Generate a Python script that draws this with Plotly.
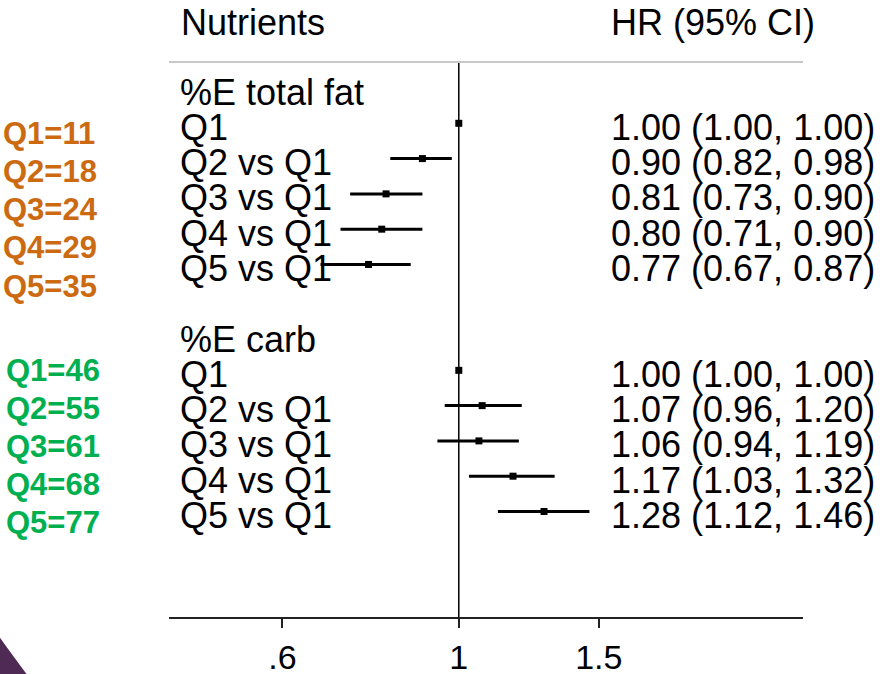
import math
import plotly.graph_objects as go

# ---- data ----
group_titles = ["%E total fat", "%E carb"]
row_labels = ["Q1", "Q2 vs Q1", "Q3 vs Q1", "Q4 vs Q1", "Q5 vs Q1"]
fat_hr = [1.00, 0.90, 0.81, 0.80, 0.77]
fat_lo = [1.00, 0.82, 0.73, 0.71, 0.67]
fat_hi = [1.00, 0.98, 0.90, 0.90, 0.87]
carb_hr = [1.00, 1.07, 1.06, 1.17, 1.28]
carb_lo = [1.00, 0.96, 0.94, 1.03, 1.12]
carb_hi = [1.00, 1.20, 1.19, 1.32, 1.46]
fat_quint = ["Q1=11", "Q2=18", "Q3=24", "Q4=29", "Q5=35"]
carb_quint = ["Q1=46", "Q2=55", "Q3=61", "Q4=68", "Q5=77"]
tick_vals = [0.6, 1, 1.5]
tick_text = [".6", "1", "1.5"]

W, H = 885, 674
L, R, T, B = 169, 803, 62, 617

def px_x(px):
    return (px - L) / (R - L)

def px_y(py):
    return (B - py) / (B - T)

FONT = "Liberation Sans, Arial, sans-serif"
ORANGE = "#CC6A12"
GREEN = "#00B050"

fat_rows = [1, 2, 3, 4, 5]
carb_rows = [8, 9, 10, 11, 12]

fig = go.Figure()
for hr, lo, hi, rows in [(fat_hr, fat_lo, fat_hi, fat_rows), (carb_hr, carb_lo, carb_hi, carb_rows)]:
    fig.add_trace(go.Scatter(
        x=hr, y=rows, mode="markers",
        marker=dict(symbol="square", size=7, color="black"),
        error_x=dict(type="data", symmetric=False,
                     array=[h - m for h, m in zip(hi, hr)],
                     arrayminus=[m - l for m, l in zip(hr, lo)],
                     color="black", thickness=3, width=0),
        showlegend=False, hoverinfo="skip"))

annotations = []
def add_text(text, x, y, xref="paper", yref="y", size=36, color="black", bold=False, yshift=0):
    annotations.append(dict(text=("<b>%s</b>" % text) if bold else text, x=x, y=y, xref=xref, yref=yref,
                            xanchor="left", yanchor="middle", showarrow=False, yshift=yshift,
                            font=dict(family=FONT, size=size, color=color)))

# headers
add_text("Nutrients", px_x(179), px_y(22), yref="paper")
add_text("HR (95% CI)", px_x(609), px_y(22), yref="paper")

# group titles and rows
for title, trow, rows, hr, lo, hi in [(group_titles[0], 0, fat_rows, fat_hr, fat_lo, fat_hi),
                                       (group_titles[1], 7, carb_rows, carb_hr, carb_lo, carb_hi)]:
    add_text(title, px_x(178), trow, yshift=-4)
    for lab, r, h, l, u in zip(row_labels, rows, hr, lo, hi):
        add_text(lab, px_x(178), r, yshift=-4)
        add_text("%.2f (%.2f, %.2f)" % (h, l, u), px_x(609), r, yshift=-4, size=36)

# coloured quintile labels
for i, t in enumerate(fat_quint):
    add_text(t, px_x(1), px_y(133 + 38.3 * i), yref="paper", size=31, color=ORANGE, bold=True)
for i, t in enumerate(carb_quint):
    add_text(t, px_x(4), px_y(370 + 38 * i), yref="paper", size=31, color=GREEN, bold=True)

shapes = [
    dict(type="line", xref="x", yref="paper", x0=1, x1=1, y0=0, y1=1,
         line=dict(color="black", width=1.5)),
    dict(type="line", xref="paper", yref="paper", x0=0, x1=1, y0=1, y1=1,
         line=dict(color="#C8C8C8", width=2)),
    dict(type="path", xref="paper", yref="paper",
         path="M %f %f Q %f %f %f %f L %f %f Z" % (
             px_x(-2), px_y(635), px_x(10), px_y(652), px_x(28), px_y(676),
             px_x(-2), px_y(676)),
         fillcolor="#4E2A55", line=dict(width=0)),
]

fig.update_layout(
    width=W, height=H,
    margin=dict(l=L, r=W - R, t=T, b=H - B, autoexpand=False),
    paper_bgcolor="white", plot_bgcolor="white",
    annotations=annotations, shapes=shapes,
    xaxis=dict(type="log", range=[math.log10(0.432), math.log10(2.71)],
               tickvals=tick_vals, ticktext=tick_text,
               showgrid=False, zeroline=False, automargin=False,
               showline=True, linecolor="#222222", linewidth=1.5,
               ticks="outside", ticklen=9, tickwidth=1.5, tickcolor="#222222",
               tickfont=dict(family=FONT, size=34, color="black")),
    yaxis=dict(range=[14.99, -0.737], visible=False, showgrid=False, zeroline=False,
               automargin=False),
)

fig.write_html("out.html", config={"displayModeBar": False},
               post_script="document.body.style.margin='0';")
